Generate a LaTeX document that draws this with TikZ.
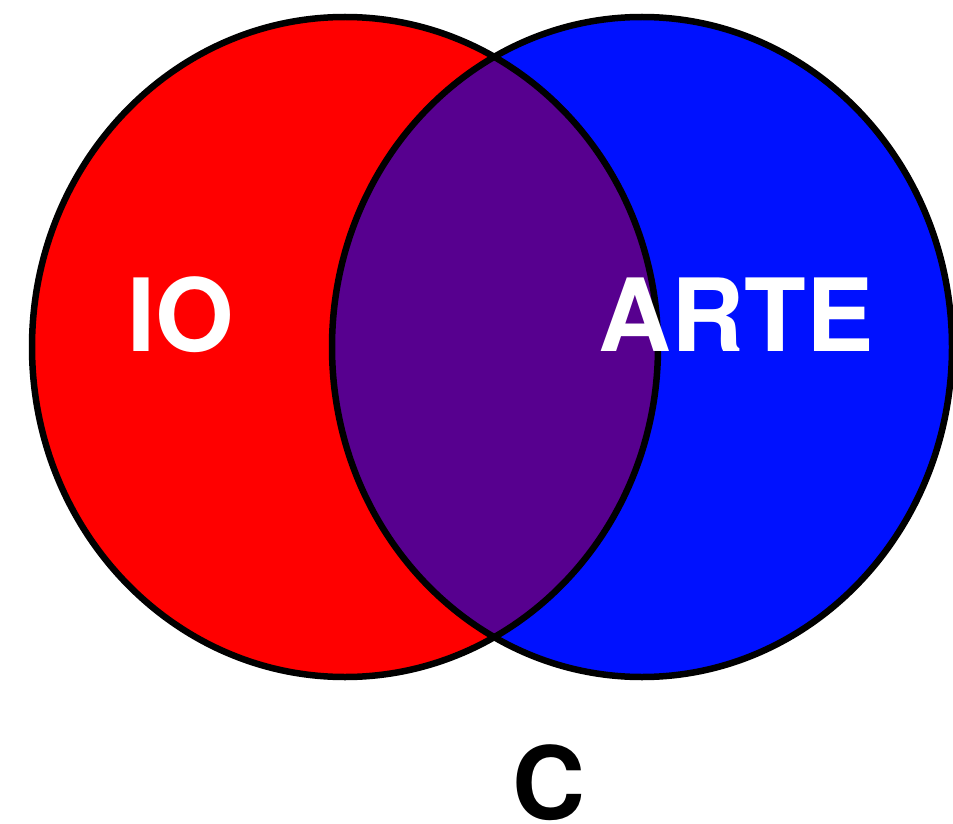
\documentclass[tikz,border=0pt]{standalone}
\usepackage{fontspec}
\setmainfont{TeX Gyre Heros}
\definecolor{vred}{RGB}{255,0,0}
\definecolor{vblue}{RGB}{0,17,255}
\definecolor{vpurple}{RGB}{87,0,143}
\tikzset{
  outline/.style={draw=black,line width=6.5pt},
  lbl/.style={anchor=base,inner sep=0pt,text depth=0pt,font=\fontsize{101}{101}\selectfont\bfseries},
}
\begin{document}
\begin{tikzpicture}[x=1pt,y=-1pt]
\useasboundingbox (0,0) rectangle (953,824);
\fill[vred] (345,347) ellipse [x radius=313,y radius=330];
\fill[vblue] (642,347) ellipse [x radius=310,y radius=330];
\begin{scope}
  \clip (345,347) ellipse [x radius=313,y radius=330];
  \fill[vpurple] (642,347) ellipse [x radius=310,y radius=330];
\end{scope}
\draw[outline] (345,347) ellipse [x radius=313,y radius=330];
\draw[outline] (642,347) ellipse [x radius=310,y radius=330];
\node[lbl,text=white] (io) at (181,351.5) {IO};
\node[lbl,text=white] (arte) at (736,351) {ARTE};
\node[lbl,text=black] (c) at (549,819) {C};
\end{tikzpicture}
\end{document}
